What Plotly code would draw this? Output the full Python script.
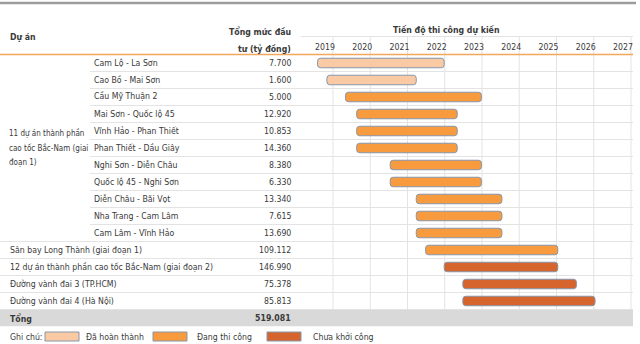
import plotly.graph_objects as go

# ---- data -------------------------------------------------------------
projects = [
    "Cam Lộ - La Sơn",
    "Cao Bồ - Mai Sơn",
    "Cầu Mỹ Thuận 2",
    "Mai Sơn - Quốc lộ 45",
    "Vĩnh Hảo - Phan Thiết",
    "Phan Thiết - Dầu Giây",
    "Nghi Sơn - Diễn Châu",
    "Quốc lộ 45 - Nghi Sơn",
    "Diễn Châu - Bãi Vọt",
    "Nha Trang - Cam Lâm",
    "Cam Lâm - Vĩnh Hảo",
    "Sân bay Long Thành (giai đoạn 1)",
    "12 dự án thành phần cao tốc Bắc-Nam (giai đoạn 2)",
    "Đường vành đai 3 (TP.HCM)",
    "Đường vành đai 4 (Hà Nội)",
]
investment = [7700, 1600, 5000, 12920, 10853, 14360, 8380, 6330,
              13340, 7615, 13690, 109112, 146990, 75378, 85813]
start_year = [2018.8, 2019.05, 2019.55, 2019.85, 2019.85, 2019.85, 2020.75, 2020.75,
              2021.45, 2021.45, 2021.45, 2021.7, 2022.2, 2022.7, 2022.7]
end_year = [2022.2, 2021.45, 2023.2, 2022.55, 2022.55, 2022.55, 2023.2, 2023.2,
            2023.75, 2023.75, 2023.75, 2025.25, 2025.25, 2025.75, 2026.25]
status = ["done", "done", "ongoing", "ongoing", "ongoing", "ongoing", "ongoing", "ongoing",
          "ongoing", "ongoing", "ongoing", "ongoing", "pending", "pending", "pending"]
group_label_lines = ["11 dự án thành phần", "cao tốc Bắc-Nam (giai", "đoạn 1)"]
group_size = 11
years = list(range(2019, 2028))
status_names = {"done": "Đã hoàn thành", "ongoing": "Đang thi công", "pending": "Chưa khởi công"}

# ---- styling ----------------------------------------------------------
W, H = 640, 344
FONT = "DejaVu Sans Condensed, Liberation Sans Narrow, Arial Narrow, sans-serif"
FS = 8.7
TXT = "#3a3a3a"
COLORS = {"done": "#f9caa3", "ongoing": "#f89b3e", "pending": "#d5642d"}
BAR_EDGE = "#8796aa"
GRID = "#e3e3e3"

def px(x):
    return x / W

def py(y):
    return 1 - y / H

def fmt(v):
    return f"{v:,.0f}".replace(",", ".")

n = len(projects)
rows = list(range(n))
total_row = n

fig = go.Figure()

# gantt bars, one trace per status so each keeps its own colour
for key in ["done", "ongoing", "pending"]:
    idx = [i for i in rows if status[i] == key]
    fig.add_trace(go.Bar(
        orientation="h",
        y=[rows[i] for i in idx],
        base=[start_year[i] for i in idx],
        x=[end_year[i] - start_year[i] for i in idx],
        width=0.56,
        marker=dict(color=COLORS[key], line=dict(color=BAR_EDGE, width=1), cornerradius=3),
        name=status_names[key],
        showlegend=False,
        hoverinfo="skip",
    ))

# geometry of the table (pixels)
x_chart0, x_chart1 = 301, 633
row_top, row_h = 54.5, 17.0
y_dom_top = row_top
y_dom_bot = row_top + row_h * (n + 1)
label_x0, label_x1 = 325, 325 + 37.25 * (years[-1] - years[0])
span = (label_x1 - label_x0) / (years[-1] - years[0])
xr0 = years[0] + (x_chart0 - label_x0) / span
xr1 = years[0] + (x_chart1 - label_x0) / span
grid_offset = 8 / span

shapes = []
# top rule
shapes.append(dict(type="line", xref="paper", yref="paper", x0=0, x1=px(636),
                   y0=py(3), y1=py(3), line=dict(color="#9c9c9c", width=2.5), layer="below"))
# total row band
shapes.append(dict(type="rect", xref="paper", yref="y", x0=0, x1=px(x_chart1),
                   y0=total_row - 0.5, y1=total_row + 0.5, fillcolor="#d9d9d9",
                   line=dict(width=0), layer="below"))
# row separators
for i in range(n):
    x_start = px(90) if i < group_size - 1 else 0
    shapes.append(dict(type="line", xref="paper", yref="y", x0=x_start, x1=px(x_chart1),
                       y0=i + 0.5, y1=i + 0.5, line=dict(color=GRID, width=1), layer="below"))
# rule below the schedule title
shapes.append(dict(type="line", xref="paper", yref="paper", x0=px(x_chart0), x1=px(x_chart1),
                   y0=py(36.5), y1=py(36.5), line=dict(color=GRID, width=1), layer="below"))
# vertical year separators
for yv in years:
    shapes.append(dict(type="line", xref="x", yref="paper", x0=yv + grid_offset, x1=yv + grid_offset,
                       y0=py(y_dom_bot - row_h), y1=py(36.5),
                       line=dict(color=GRID, width=1), layer="below"))
# header rule
shapes.append(dict(type="line", xref="paper", yref="paper", x0=0, x1=px(x_chart1),
                   y0=py(row_top), y1=py(row_top), line=dict(color="#f2a75a", width=1.5), layer="below"))

annotations = []

def text(x, y, s, xanchor="left", yref="y", bold=False, size=FS):
    if bold:
        s = f"<b>{s}</b>"
    annotations.append(dict(x=x, y=y, xref="paper", yref=yref, text=s, showarrow=False,
                            xanchor=xanchor, yanchor="middle",
                            font=dict(family=FONT, size=size, color=TXT), align="left"))

# header texts
text(px(8), py(37), "Dự án", yref="paper", bold=True)
text(px(293), py(32), "Tổng mức đầu", xanchor="right", yref="paper", bold=True)
text(px(293), py(48.5), "tư (tỷ đồng)", xanchor="right", yref="paper", bold=True)
text(px(446), py(29.5), "Tiến độ thi công dự kiến", xanchor="center", yref="paper", bold=True)

# row names and values
for i in rows:
    x_name = px(92) if i < group_size else px(8)
    text(x_name, i, projects[i])
    text(px(293), i, fmt(investment[i]), xanchor="right")

# wrapped group label, centred on the grouped rows with a loose line pitch
mid = (group_size - 1) / 2
pitch = 0.87
for k, line in enumerate(group_label_lines):
    text(px(7), mid + (k - (len(group_label_lines) - 1) / 2) * pitch, line, size=8.0)

text(px(8), total_row, "Tổng", bold=True)
text(px(293), total_row, fmt(sum(investment)), xanchor="right", bold=True)

# legend row
leg_y = 336.5
text(px(8), py(leg_y), "Ghi chú:", yref="paper")
legend_items = [("done", 45, 79, 84), ("ongoing", 153, 187, 195), ("pending", 267, 301, 311)]
for key, sx0, sx1, tx in legend_items:
    shapes.append(dict(type="rect", xref="paper", yref="paper", x0=px(sx0), x1=px(sx1),
                       y0=py(leg_y + 4.5), y1=py(leg_y - 4.5), fillcolor=COLORS[key],
                       line=dict(color=BAR_EDGE, width=1)))
    text(px(tx), py(leg_y), status_names[key], yref="paper")

fig.update_layout(
    width=W, height=H,
    margin=dict(l=0, r=0, t=0, b=0),
    paper_bgcolor="white", plot_bgcolor="rgba(0,0,0,0)",
    barmode="overlay",
    showlegend=False,
    shapes=shapes,
    annotations=annotations,
    xaxis=dict(domain=[px(x_chart0), px(x_chart1)], range=[xr0, xr1], side="top",
               tickvals=years, ticktext=[str(y) for y in years],
               showgrid=False, zeroline=False, showline=False, ticks="",
               ticklabelstandoff=2,
               tickfont=dict(family=FONT, size=FS, color=TXT)),
    yaxis=dict(domain=[py(y_dom_bot), py(y_dom_top)], range=[n + 0.5, -0.5],
               visible=False, showgrid=False, zeroline=False),
)

fig.write_html("out.html")
